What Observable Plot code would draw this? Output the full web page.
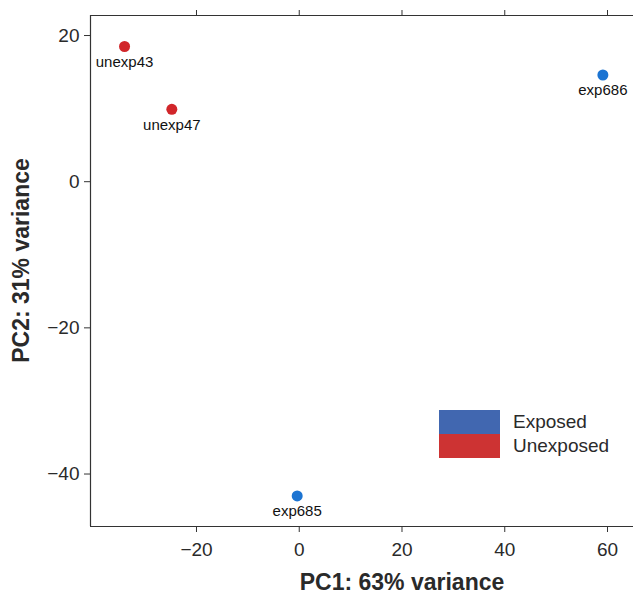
<!DOCTYPE html>
<html>
<head>
<meta charset="utf-8">
<script src="https://cdn.jsdelivr.net/npm/d3@7"></script>
<script src="https://cdn.jsdelivr.net/npm/@observablehq/plot@0.6"></script>
<style>
  html, body { margin: 0; padding: 0; background: #fff; overflow: hidden; }
  #wrap { position: relative; width: 633px; height: 595px; font-family: "Liberation Sans", Arial, sans-serif; }
  .legend { position: absolute; left: 439px; top: 410px; }
  .legend .row { display: flex; align-items: center; height: 24px; }
  .legend .sw { width: 61px; height: 24px; }
  .legend .lab { margin-left: 13px; font-size: 19px; color: #2a2a2a; }
</style>
</head>
<body>
<div id="wrap"></div>
<script>
// Data
const samples = ["unexp43", "unexp47", "exp686", "exp685"];
const pc1 = [-34.0, -24.8, 59.1, -0.4];
const pc2 = [18.5, 9.9, 14.6, -43.0];
const groups = ["Unexposed", "Unexposed", "Exposed", "Exposed"];
const groupNames = ["Exposed", "Unexposed"];
const pointColors = ["#1c74d2", "#d1262a"];
const legendColors = ["#4167b0", "#cd3333"];
const xTicks = [-20, 0, 20, 40, 60];
const yTicks = [-40, -20, 0, 20];
const xTitle = "PC1: 63% variance";
const yTitle = "PC2: 31% variance";

const data = samples.map((s, i) => ({sample: s, pc1: pc1[i], pc2: pc2[i], group: groups[i]}));
const xDomain = [-40.63, 65.06];
const yDomain = [-47.18, 22.74];

const plot = Plot.plot({
  width: 633,
  height: 595,
  marginLeft: 90,
  marginRight: 0,
  marginTop: 15,
  marginBottom: 69,
  style: {fontFamily: "Liberation Sans, Arial, sans-serif", background: "#fff"},
  x: {domain: xDomain},
  y: {domain: yDomain},
  color: {domain: groupNames, range: pointColors},
  marks: [
    Plot.ruleX([xDomain[0]], {stroke: "#333", strokeWidth: 1.2}),
    Plot.ruleY(yDomain, {stroke: "#333", strokeWidth: 1.2}),
    Plot.axisX({anchor: "bottom", ticks: xTicks, tickSize: 6, tickPadding: 10, fontSize: 19, color: "#2a2a2a", stroke: "#333", label: null}),
    Plot.axisX({anchor: "top", ticks: xTicks, tickSize: 6, tickFormat: () => "", label: null, stroke: "#333"}),
    Plot.axisY({anchor: "left", ticks: yTicks, tickSize: 6, tickPadding: 5, fontSize: 19, color: "#2a2a2a", stroke: "#333", label: null}),
    Plot.dot(data, {x: "pc1", y: "pc2", fill: "group", r: 5.5, stroke: null}),
    Plot.text(data, {x: "pc1", y: "pc2", text: "sample", dy: 15.5, fontSize: 15, fill: "#111"}),
    Plot.text([xTitle], {frameAnchor: "bottom", text: d => d, textAnchor: "middle", lineAnchor: "middle", dy: 56, dx: 40, fontSize: 23, fontWeight: "bold", fill: "#2a2a2a"}),
    Plot.text([yTitle], {frameAnchor: "left", text: d => d, textAnchor: "middle", lineAnchor: "middle", rotate: -90, dx: -69, dy: -10.5, fontSize: 23, fontWeight: "bold", fill: "#2a2a2a"})
  ]
});

const wrap = document.getElementById("wrap");
wrap.appendChild(plot);

const legend = document.createElement("div");
legend.className = "legend";
groupNames.forEach((g, i) => {
  const row = document.createElement("div");
  row.className = "row";
  const sw = document.createElement("div");
  sw.className = "sw";
  sw.style.background = legendColors[i];
  const lab = document.createElement("div");
  lab.className = "lab";
  lab.textContent = g;
  row.appendChild(sw);
  row.appendChild(lab);
  legend.appendChild(row);
});
wrap.appendChild(legend);
</script>
</body>
</html>
